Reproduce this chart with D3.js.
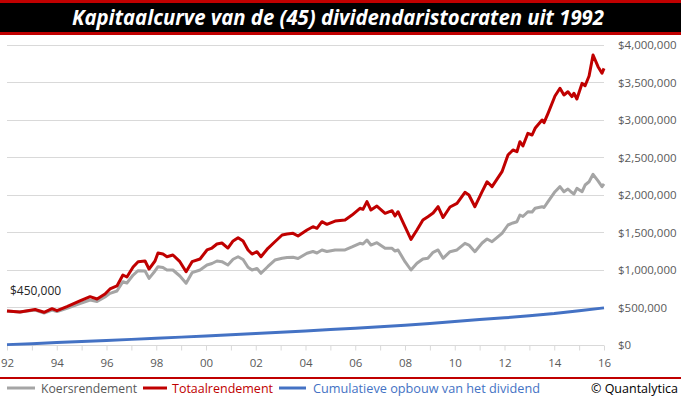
<!DOCTYPE html>
<html><head><meta charset="utf-8">
<script src="https://cdn.jsdelivr.net/npm/d3@7"></script>
<style>body{margin:0;background:#fff}svg{display:block}</style>
</head><body>
<svg id="c" width="681" height="399"></svg>
<script>
// ---- data ----
const title = "Kapitaalcurve van de (45) dividendaristocraten uit 1992";
const dates = [1992.00,1992.52,1993.13,1993.49,1993.81,1994.01,1994.41,1994.93,1995.34,1995.62,1995.94,1996.14,1996.42,1996.66,1996.82,1997.07,1997.27,1997.55,1997.71,1997.95,1998.07,1998.27,1998.43,1998.67,1998.95,1999.20,1999.44,1999.76,2000.04,2000.24,2000.44,2000.64,2000.88,2001.09,2001.29,2001.49,2001.69,2001.85,2002.05,2002.21,2002.49,2002.77,2003.06,2003.26,2003.50,2003.70,2004.06,2004.30,2004.46,2004.66,2004.86,2005.19,2005.59,2005.87,2006.19,2006.31,2006.47,2006.63,2006.87,2007.20,2007.48,2007.60,2007.72,2008.00,2008.24,2008.48,2008.72,2008.92,2009.13,2009.33,2009.53,2009.81,2010.09,2010.41,2010.57,2010.81,2011.10,2011.30,2011.50,2011.90,2012.14,2012.34,2012.50,2012.62,2012.74,2012.94,2013.11,2013.23,2013.51,2013.59,2013.75,2014.03,2014.23,2014.39,2014.55,2014.71,2014.79,2014.91,2015.12,2015.24,2015.40,2015.56,2015.76,2015.92,2016.00];
const totaalrendement = [453000,440000,473000,436000,484000,457000,511000,587000,644000,613000,680000,747000,787000,933000,907000,1040000,1111000,1120000,1013000,1120000,1227000,1213000,1177000,1200000,1111000,977000,1111000,1147000,1267000,1293000,1347000,1360000,1293000,1387000,1431000,1387000,1267000,1213000,1244000,1177000,1289000,1377000,1467000,1480000,1489000,1453000,1533000,1577000,1556000,1644000,1609000,1653000,1667000,1733000,1823000,1809000,1911000,1800000,1853000,1756000,1791000,1720000,1777000,1577000,1409000,1533000,1667000,1711000,1760000,1844000,1700000,1840000,1889000,2036000,2000000,1844000,2044000,2177000,2111000,2311000,2533000,2600000,2577000,2711000,2653000,2823000,2800000,2889000,3000000,2964000,3089000,3320000,3423000,3333000,3377000,3311000,3356000,3280000,3489000,3457000,3587000,3867000,3711000,3623000,3689000];
const koersrendement = [453000,440000,467000,427000,467000,447000,489000,553000,600000,580000,640000,689000,720000,844000,827000,933000,991000,987000,889000,987000,1044000,1033000,1000000,1000000,920000,823000,964000,1000000,1067000,1087000,1120000,1111000,1067000,1143000,1177000,1140000,1036000,1000000,1020000,956000,1047000,1133000,1156000,1167000,1169000,1153000,1223000,1247000,1227000,1267000,1247000,1267000,1267000,1307000,1356000,1347000,1400000,1333000,1364000,1289000,1289000,1253000,1267000,1111000,1000000,1089000,1147000,1156000,1236000,1267000,1156000,1244000,1267000,1356000,1333000,1244000,1360000,1413000,1377000,1489000,1600000,1627000,1644000,1733000,1713000,1777000,1773000,1823000,1844000,1833000,1911000,2044000,2111000,2044000,2080000,2033000,2013000,2089000,2044000,2133000,2177000,2276000,2187000,2111000,2147000];
const divYears = [1992,1993,1994,1995,1996,1997,1998,1999,2000,2001,2002,2003,2004,2005,2006,2007,2008,2009,2010,2011,2012,2013,2014,2015,2016];
const dividend = [5000,18000,32000,46000,60000,75000,90000,105000,120000,137000,154000,171000,188000,206000,224000,243000,264000,288000,313000,340000,362000,390000,420000,458000,495000];
const yTicks = [0,500000,1000000,1500000,2000000,2500000,3000000,3500000,4000000];
const xLabelYears = [1992,1994,1996,1998,2000,2002,2004,2006,2008,2010,2012,2014,2016];
const seriesNames = ["Koersrendement","Totaalrendement","Cumulatieve opbouw van het dividend"];
const startLabel = "$450,000";
const credit = "© Quantalytica";

const C = {gray:"#A5A5A5", red:"#C00000", blue:"#4472C4"};
const svg = d3.select("#c");
const FONT = "'Open Sans', 'Noto Sans', sans-serif";

// title bar
svg.append("rect").attr("x",0).attr("y",0).attr("width",681).attr("height",35).attr("fill",C.red);
svg.append("rect").attr("x",0).attr("y",3).attr("width",681).attr("height",29).attr("fill","#000");
svg.append("text").attr("x",338).attr("y",25).attr("text-anchor","middle")
  .attr("fill","#fff").attr("font-family",FONT).attr("font-weight","bold").attr("font-style","italic")
  .attr("font-size",21).attr("textLength",532).attr("lengthAdjust","spacingAndGlyphs").text(title);

const x = d3.scaleLinear().domain([1992,2016]).range([7,604]);
const y = d3.scaleLinear().domain([0,4000000]).range([345,45]);

// gridlines
svg.append("g").selectAll("line").data(yTicks.slice(1)).join("line")
  .attr("x1",7).attr("x2",604).attr("y1",d=>y(d)).attr("y2",d=>y(d))
  .attr("stroke","#D9D9D9").attr("stroke-width",1).attr("shape-rendering","crispEdges");

// y axis (right)
const yAxis = d3.axisRight(y).tickValues(yTicks).tickSize(0).tickPadding(0)
  .tickFormat(d=>"$"+d3.format(",")(d));
const gy = svg.append("g").attr("transform","translate(618,0)").call(yAxis);
gy.select(".domain").remove();
gy.selectAll("text").attr("fill","#595959").attr("font-family",FONT).attr("font-size",11.5);

// x axis
const xAxis = d3.axisBottom(x).tickValues(d3.range(1992,2017)).tickSize(5).tickPadding(8)
  .tickFormat(d=>xLabelYears.includes(d)?String(d).slice(2):"");
const gx = svg.append("g").attr("transform","translate(0,345.5)").call(xAxis);
gx.select(".domain").attr("stroke","#D9D9D9").attr("d","M7,0H604");
gx.selectAll(".tick line").attr("stroke","#D9D9D9");
gx.selectAll("text").attr("fill","#595959").attr("font-family",FONT).attr("font-size",11.5);

// lines
const line = d3.line().x(d=>x(d[0])).y(d=>y(d[1]));
const g = svg.append("g").attr("fill","none").attr("stroke-width",3).attr("stroke-linejoin","round");
g.append("path").attr("d",line(divYears.map((d,i)=>[d,dividend[i]]))).attr("stroke",C.blue);
g.append("path").attr("d",line(dates.map((d,i)=>[d,koersrendement[i]]))).attr("stroke",C.gray);
g.append("path").attr("d",line(dates.map((d,i)=>[d,totaalrendement[i]]))).attr("stroke",C.red);

// start label
svg.append("text").attr("x",10).attr("y",295).attr("fill","#262626").attr("font-family",FONT)
  .attr("font-size",12).text(startLabel);

// legend separator
svg.append("rect").attr("x",0).attr("y",377).attr("width",681).attr("height",2).attr("fill",C.red);

// legend
const leg = [
  {name:seriesNames[0], color:C.gray, text:"#595959", x1:7, x2:35, tx:41, tw:96},
  {name:seriesNames[1], color:C.red, text:C.red, x1:143, x2:167, tx:172, tw:101},
  {name:seriesNames[2], color:C.blue, text:C.blue, x1:279, x2:306, tx:313, tw:227}
];
const lg = svg.append("g");
leg.forEach(l=>{
  lg.append("line").attr("x1",l.x1).attr("x2",l.x2).attr("y1",388).attr("y2",388)
    .attr("stroke",l.color).attr("stroke-width",3);
  lg.append("text").attr("x",l.tx).attr("y",392.5).attr("fill",l.text).attr("font-family",FONT)
    .attr("font-size",12.5).attr("textLength",l.tw).attr("lengthAdjust","spacingAndGlyphs").text(l.name);
});
svg.append("text").attr("x",678).attr("y",392.5).attr("text-anchor","end").attr("fill","#000")
  .attr("font-family",FONT).attr("font-size",12.5).text(credit);
</script>
</body></html>
